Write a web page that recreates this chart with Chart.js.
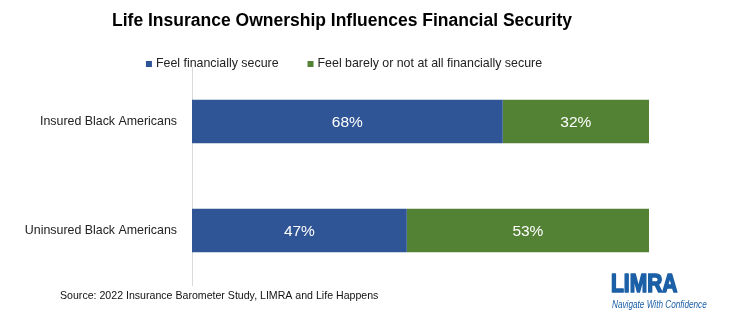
<!DOCTYPE html>
<html>
<head>
<meta charset="utf-8">
<script src="https://cdn.jsdelivr.net/npm/chart.js@4/dist/chart.umd.min.js"></script>
<style>
  html, body { margin: 0; padding: 0; background: #fff; }
  #wrap { width: 734px; height: 324px; position: relative; }
</style>
</head>
<body>
<div id="wrap"><canvas id="securityChart" width="734" height="324"></canvas></div>
<script>
const groups = ["Insured Black Americans", "Uninsured Black Americans"];
const secure = [68, 47];
const notSecure = [32, 53];
const seriesNames = ["Feel financially secure", "Feel barely or not at all financially secure"];
const seriesColors = ["#2F5597", "#548235"];
const sourceNote = "Source: 2022 Insurance Barometer Study, LIMRA and Life Happens";

const FONT = "'Liberation Sans', Arial, sans-serif";

// white percentage text in the middle of every segment
const segmentLabels = {
  id: "segmentLabels",
  afterDatasetsDraw(chart) {
    const ctx = chart.ctx;
    ctx.save();
    ctx.fillStyle = "#fff";
    ctx.font = "15.5px " + FONT;
    ctx.textAlign = "center";
    ctx.textBaseline = "middle";
    chart.data.datasets.forEach((ds, i) => {
      chart.getDatasetMeta(i).data.forEach((bar, j) => {
        const p = bar.getProps(["x", "y", "base"], true);
        ctx.fillText(ds.data[j] + "%", (p.x + p.base) / 2, p.y + 1);
      });
    });
    ctx.restore();
  }
};

// legend row, source line and logo
const extras = {
  id: "extras",
  afterDraw(chart) {
    const ctx = chart.ctx;
    ctx.save();
    ctx.textBaseline = "middle";
    ctx.font = "12.4px " + FONT;
    const gap = 29, box = 6, textGap = 4;
    const items = chart.data.datasets.map(ds => ({
      label: ds.label, color: ds.backgroundColor,
      w: box + textGap + ctx.measureText(ds.label).width
    }));
    const total = items.reduce((s, it) => s + it.w, 0) + gap * (items.length - 1);
    let x = 344 - total / 2;
    const y = 64;
    items.forEach(it => {
      ctx.fillStyle = it.color;
      ctx.fillRect(x, y - box / 2, box, box);
      ctx.fillStyle = "#222";
      ctx.textAlign = "left";
      ctx.fillText(it.label, x + box + textGap, y);
      x += it.w + gap;
    });

    ctx.fillStyle = "#111";
    ctx.font = "10.6px " + FONT;
    ctx.fillText(sourceNote, 60, 296);

    // LIMRA mark
    ctx.fillStyle = "#1B5FA6";
    ctx.strokeStyle = "#1B5FA6";
    ctx.save();
    ctx.translate(611, 285);
    ctx.scale(0.84, 1.05);
    ctx.font = "bold 25px " + FONT;
    ctx.lineWidth = 1.6;
    ctx.lineJoin = "round";
    ctx.strokeText("LIMRA", 0, 0);
    ctx.fillText("LIMRA", 0, 0);
    ctx.restore();
    ctx.save();
    ctx.translate(612, 305);
    ctx.scale(0.82, 1);
    ctx.font = "italic 10px " + FONT;
    ctx.fillText("Navigate With Confidence", 0, 0);
    ctx.restore();
    ctx.restore();
  }
};

new Chart(document.getElementById("securityChart"), {
  type: "bar",
  data: {
    labels: groups,
    datasets: [
      { label: seriesNames[0], data: secure, backgroundColor: seriesColors[0] },
      { label: seriesNames[1], data: notSecure, backgroundColor: seriesColors[1] }
    ]
  },
  options: {
    indexAxis: "y",
    responsive: false,
    animation: false,
    devicePixelRatio: 1,
    layout: { padding: { left: 0, right: 50, top: 0, bottom: 39 } },
    datasets: { bar: { categoryPercentage: 1, barPercentage: 0.4 } },
    scales: {
      x: {
        stacked: true,
        min: 0,
        max: 100,
        display: false
      },
      y: {
        stacked: true,
        grid: { display: false, drawTicks: false },
        border: { display: true, color: "#d9d9d9", width: 1 },
        ticks: { color: "#222", font: { family: FONT, size: 12.4 }, padding: 15 },
        afterFit(scale) { scale.width = 192; }
      },
      // empty strip on the right so the bars stop short of the logo column
      yRight: {
        position: "right",
        grid: { display: false, drawTicks: false },
        border: { display: false },
        ticks: { display: false },
        afterFit(scale) { scale.width = 35; }
      }
    },
    plugins: {
      legend: { display: false },
      tooltip: { enabled: false },
      title: {
        display: true,
        text: "Life Insurance Ownership Influences Financial Security",
        color: "#000",
        font: { family: FONT, size: 17.5, weight: "bold" },
        padding: { top: 11, bottom: 35 }
      }
    }
  },
  plugins: [segmentLabels, extras]
});
</script>
</body>
</html>
